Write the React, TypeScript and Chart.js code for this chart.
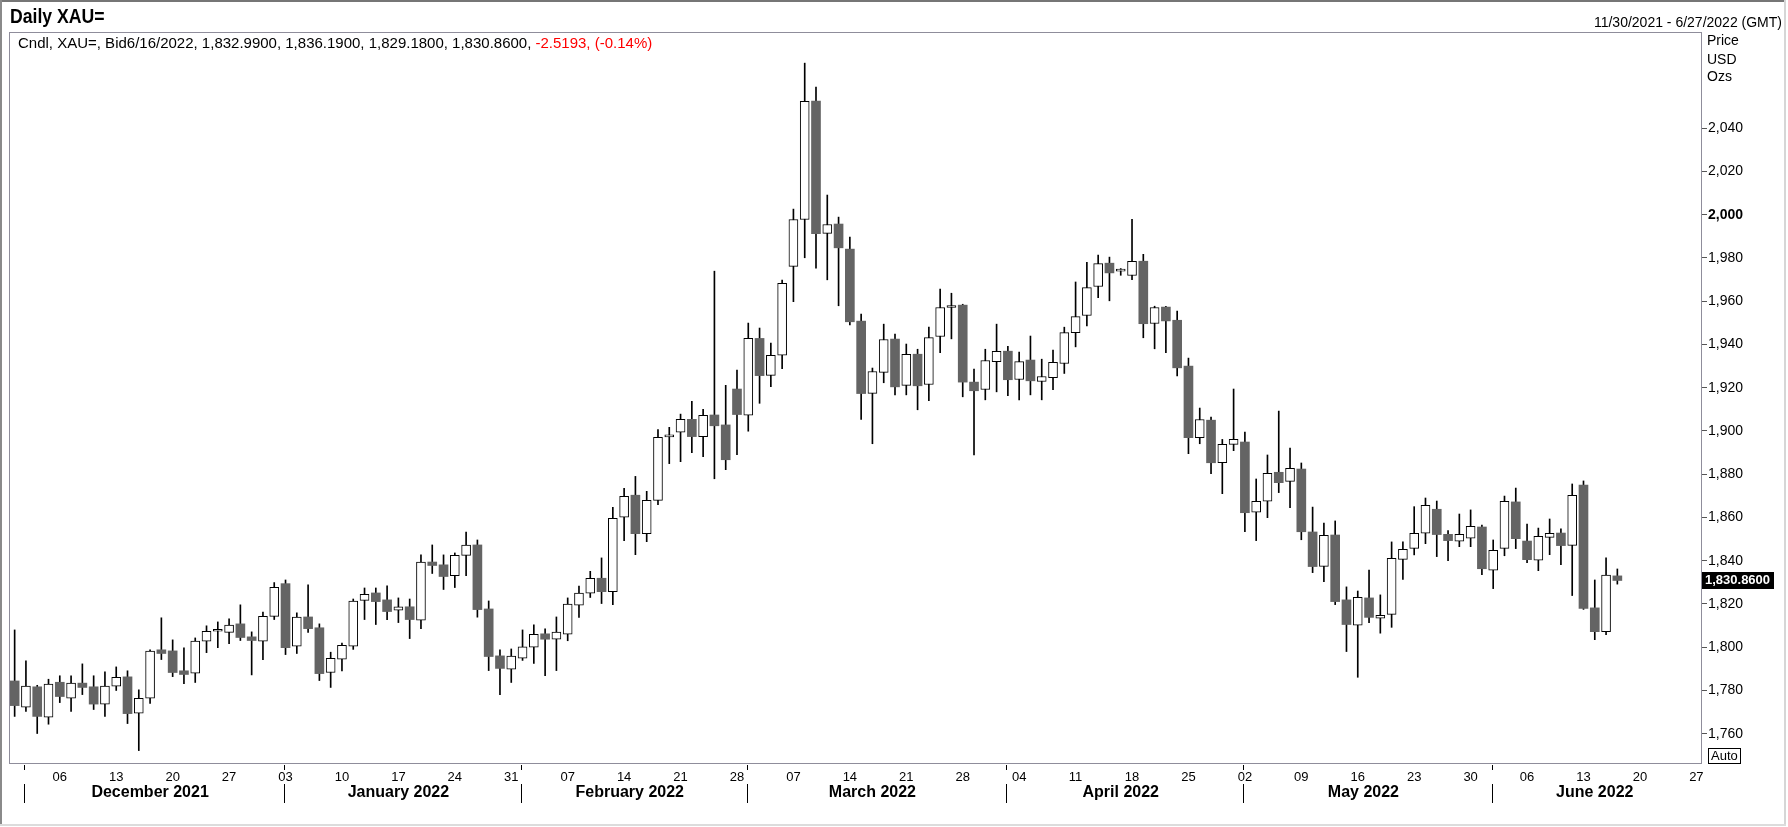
import React, { useEffect, useRef } from 'react';
import { Chart, registerables } from 'chart.js';

Chart.register(...registerables);

// ---------- data ----------
const DATES: string[] = [
  '2021-11-30',
  '2021-12-01','2021-12-02','2021-12-03','2021-12-06','2021-12-07','2021-12-08','2021-12-09','2021-12-10',
  '2021-12-13','2021-12-14','2021-12-15','2021-12-16','2021-12-17','2021-12-20','2021-12-21','2021-12-22',
  '2021-12-23','2021-12-24','2021-12-27','2021-12-28','2021-12-29','2021-12-30','2021-12-31',
  '2022-01-03','2022-01-04','2022-01-05','2022-01-06','2022-01-07','2022-01-10','2022-01-11','2022-01-12',
  '2022-01-13','2022-01-14','2022-01-17','2022-01-18','2022-01-19','2022-01-20','2022-01-21','2022-01-24',
  '2022-01-25','2022-01-26','2022-01-27','2022-01-28','2022-01-31',
  '2022-02-01','2022-02-02','2022-02-03','2022-02-04','2022-02-07','2022-02-08','2022-02-09','2022-02-10',
  '2022-02-11','2022-02-14','2022-02-15','2022-02-16','2022-02-17','2022-02-18','2022-02-21','2022-02-22',
  '2022-02-23','2022-02-24','2022-02-25','2022-02-28',
  '2022-03-01','2022-03-02','2022-03-03','2022-03-04','2022-03-07','2022-03-08','2022-03-09','2022-03-10',
  '2022-03-11','2022-03-14','2022-03-15','2022-03-16','2022-03-17','2022-03-18','2022-03-21','2022-03-22',
  '2022-03-23','2022-03-24','2022-03-25','2022-03-28','2022-03-29','2022-03-30','2022-03-31',
  '2022-04-01','2022-04-04','2022-04-05','2022-04-06','2022-04-07','2022-04-08','2022-04-11','2022-04-12',
  '2022-04-13','2022-04-14','2022-04-15','2022-04-18','2022-04-19','2022-04-20','2022-04-21','2022-04-22',
  '2022-04-25','2022-04-26','2022-04-27','2022-04-28','2022-04-29',
  '2022-05-02','2022-05-03','2022-05-04','2022-05-05','2022-05-06','2022-05-09','2022-05-10','2022-05-11',
  '2022-05-12','2022-05-13','2022-05-16','2022-05-17','2022-05-18','2022-05-19','2022-05-20','2022-05-23',
  '2022-05-24','2022-05-25','2022-05-26','2022-05-27','2022-05-30','2022-05-31',
  '2022-06-01','2022-06-02','2022-06-03','2022-06-06','2022-06-07','2022-06-08','2022-06-09','2022-06-10',
  '2022-06-13','2022-06-14','2022-06-15','2022-06-16','2022-06-17','2022-06-20','2022-06-21','2022-06-22',
  '2022-06-23','2022-06-24','2022-06-27',
];

const OPEN: number[] = [
  1784.4,1772.3,1781.7,1767.7,1783.8,1776.4,1783.4,1781.7,1773.7,1782.0,
  1786.3,1769.5,1776.4,1798.8,1798.3,1789.1,1788.0,1802.8,1807.4,1806.9,
  1810.8,1804.8,1802.8,1814.3,1829.4,1800.5,1814.0,1809.0,1788.3,1794.5,
  1800.5,1821.7,1825.1,1821.9,1817.1,1818.7,1812.5,1839.4,1838.1,1833.1,
  1842.5,1847.3,1817.7,1796.0,1789.8,1794.9,1800.0,1806.2,1803.7,1806.0,
  1819.4,1825.0,1831.9,1825.7,1860.1,1870.3,1852.5,1867.9,1897.3,1899.4,
  1905.4,1897.4,1907.4,1902.8,1919.4,1907.3,1942.8,1925.7,1935.0,1976.1,
  1997.8,2052.5,1991.4,1995.7,1984.1,1950.8,1917.4,1927.1,1942.5,1921.1,
  1935.5,1921.5,1943.7,1957.1,1958.2,1922.6,1919.2,1932.1,1936.9,1923.8,
  1932.8,1922.9,1924.7,1931.2,1945.5,1953.4,1966.8,1977.6,1973.9,1971.9,
  1978.5,1949.7,1957.3,1951.2,1930.0,1896.9,1905.0,1885.3,1893.8,1894.9,
  1862.4,1867.5,1880.9,1876.7,1882.4,1853.3,1837.4,1851.9,1821.9,1810.2,
  1822.8,1813.4,1815.2,1840.6,1845.7,1852.7,1863.8,1852.2,1849.0,1850.4,
  1855.6,1835.6,1845.7,1867.2,1849.1,1840.2,1850.8,1852.8,1847.1,1875.0,
  1818.2,1807.2,1832.99,
];

const HIGH: number[] = [
  1808.0,1793.7,1782.4,1785.2,1786.8,1786.8,1792.3,1786.8,1788.6,1790.9,
  1789.1,1780.3,1798.8,1813.6,1803.4,1799.7,1804.3,1809.9,1811.7,1813.1,
  1819.6,1807.1,1816.3,1829.9,1831.1,1815.9,1828.8,1810.8,1797.7,1801.9,
  1822.3,1827.4,1827.4,1828.4,1822.8,1822.3,1842.7,1847.3,1842.7,1843.6,
  1853.3,1849.6,1821.4,1798.8,1799.2,1808.0,1810.3,1808.5,1814.0,1822.8,
  1828.3,1835.1,1841.3,1864.7,1873.5,1879.0,1872.1,1900.7,1901.7,1907.8,
  1913.7,1910.0,1973.9,1921.1,1928.2,1949.9,1947.6,1940.7,1969.8,2002.6,
  2070.1,2059.0,2009.1,1998.9,1989.7,1954.1,1929.1,1949.4,1944.8,1940.2,
  1937.8,1948.0,1965.6,1963.7,1958.6,1928.6,1937.8,1949.4,1939.2,1936.5,
  1943.9,1933.2,1937.4,1948.0,1968.9,1978.0,1981.3,1980.4,1975.1,1997.9,
  1981.7,1957.7,1957.6,1955.4,1933.7,1910.6,1906.4,1896.1,1919.4,1899.5,
  1877.8,1888.9,1909.2,1892.1,1885.2,1864.8,1857.4,1858.4,1827.9,1826.0,
  1835.7,1824.2,1848.7,1848.7,1865.0,1869.0,1867.6,1853.9,1861.6,1863.5,
  1856.5,1849.6,1869.9,1873.6,1857.0,1855.1,1859.3,1854.7,1875.5,1876.9,
  1831.1,1841.3,1836.19,
];

const LOW: number[] = [
  1768.0,1770.3,1760.1,1764.4,1774.4,1770.3,1778.1,1771.2,1768.0,1780.0,
  1764.7,1752.2,1774.0,1794.3,1786.4,1783.2,1783.7,1797.5,1799.8,1801.7,
  1803.1,1787.2,1794.3,1812.8,1796.6,1797.1,1806.8,1784.6,1781.4,1789.1,
  1799.0,1812.8,1810.5,1812.8,1811.4,1804.0,1808.6,1834.1,1826.7,1827.6,
  1833.1,1813.9,1789.2,1778.1,1783.7,1793.9,1792.5,1786.9,1789.2,1803.0,
  1813.8,1823.0,1820.2,1819.7,1849.3,1842.8,1848.8,1865.9,1884.9,1885.8,
  1890.0,1888.1,1877.9,1882.1,1889.1,1899.9,1912.8,1920.5,1928.8,1959.8,
  1980.1,1975.3,1969.9,1957.9,1949.0,1905.3,1894.1,1922.3,1916.7,1916.7,
  1909.8,1914.0,1936.2,1942.6,1915.8,1888.9,1914.4,1918.1,1916.3,1914.4,
  1916.7,1914.4,1919.1,1926.6,1938.9,1948.6,1961.6,1960.2,1972.0,1970.0,
  1943.1,1938.0,1936.2,1925.5,1889.5,1894.1,1880.2,1871.0,1890.9,1853.4,
  1849.3,1859.9,1871.5,1864.5,1849.7,1834.5,1830.3,1819.7,1798.0,1786.1,
  1811.4,1806.5,1809.2,1831.4,1842.7,1847.9,1841.9,1840.0,1846.5,1846.5,
  1833.6,1827.1,1842.3,1845.6,1839.1,1835.4,1842.8,1838.2,1823.9,1817.5,
  1803.5,1805.8,1829.18,
];

const CLOSE: number[] = [
  1773.0,1782.0,1768.0,1782.9,1777.2,1783.4,1781.4,1773.7,1782.0,1786.1,
  1769.3,1776.4,1798.2,1797.1,1788.3,1787.4,1802.8,1807.4,1807.6,1810.2,
  1804.5,1803.1,1814.3,1827.7,1799.8,1813.9,1808.6,1787.8,1794.9,1800.9,
  1821.3,1824.5,1821.1,1816.5,1818.7,1812.8,1839.4,1837.8,1832.7,1842.5,
  1847.2,1817.4,1795.7,1790.2,1795.9,1800.2,1806.0,1803.7,1807.0,1819.9,
  1825.0,1831.9,1825.7,1859.6,1869.8,1852.5,1867.9,1897.1,1897.5,1905.4,
  1897.4,1907.2,1902.4,1886.7,1907.6,1942.8,1925.6,1935.0,1968.3,1997.8,
  2052.4,1991.2,1995.5,1984.7,1950.5,1917.3,1927.5,1942.3,1920.4,1935.4,
  1920.9,1943.2,1957.1,1957.3,1922.6,1918.6,1932.6,1936.8,1923.7,1932.1,
  1923.2,1925.2,1931.7,1945.5,1952.9,1966.3,1977.4,1973.1,1974.1,1978.4,
  1949.6,1957.1,1950.9,1929.2,1896.9,1905.3,1885.3,1893.8,1896.1,1862.2,
  1867.5,1880.4,1876.1,1882.7,1853.4,1837.3,1851.7,1821.1,1810.5,1823.1,
  1813.8,1814.8,1841.1,1845.3,1852.7,1865.6,1852.1,1849.3,1852.2,1855.9,
  1836.3,1844.8,1867.5,1850.2,1840.5,1851.3,1852.7,1847.0,1870.2,1817.9,
  1807.2,1833.3793,1830.86,
];

const Y_TICKS: number[] = [1760, 1780, 1800, 1820, 1840, 1860, 1880, 1900, 1920, 1940, 1960, 1980, 2000, 2020, 2040];
const Y_MIN = 1746;
const Y_MAX = 2084.5;
const MONTH_NAMES: string[] = ['January', 'February', 'March', 'April', 'May', 'June', 'July', 'August', 'September', 'October', 'November', 'December'];

const FONT = '"Liberation Sans", Arial, Helvetica, sans-serif';

const fmt4 = (v: number) => v.toLocaleString('en-US', { minimumFractionDigits: 4, maximumFractionDigits: 4 });
const parseDate = (s: string) => new Date(s + 'T00:00:00Z');
const usDate = (s: string) => {
  const d = parseDate(s);
  return `${d.getUTCMonth() + 1}/${d.getUTCDate()}/${d.getUTCFullYear()}`;
};

const W = 1788;
const H = 827;

const decorPlugin = {
  id: 'decor',
  afterDraw(chart: any) {
    const { ctx, chartArea: a, scales } = chart;
    const xs = scales.x;
    const ys = scales.y;
    ctx.save();

    // plot frame
    ctx.strokeStyle = '#8f8d9b';
    ctx.lineWidth = 1;
    ctx.strokeRect(Math.round(a.left) + 0.5, Math.round(a.top) + 0.5, Math.round(a.right - a.left) - 1, Math.round(a.bottom - a.top) - 1);

    // x axis: Monday day numbers
    ctx.fillStyle = '#000';
    ctx.textAlign = 'center';
    ctx.textBaseline = 'middle';
    ctx.font = `13px ${FONT}`;
    DATES.forEach((s, i) => {
      const d = parseDate(s);
      if (d.getUTCDay() === 1) {
        ctx.fillText(String(d.getUTCDate()).padStart(2, '0'), xs.getPixelForValue(i), 777);
      }
    });

    // month groups
    const groups: { start: number; end: number; m: number; y: number }[] = [];
    DATES.forEach((s, i) => {
      const d = parseDate(s);
      const m = d.getUTCMonth();
      const last = groups[groups.length - 1];
      if (!last || last.m !== m) groups.push({ start: i, end: i, m, y: d.getUTCFullYear() });
      else last.end = i;
    });
    ctx.strokeStyle = '#000';
    ctx.lineWidth = 1;
    ctx.font = `bold 16px ${FONT}`;
    groups.forEach((g) => {
      if (g.start === 0) return;
      const bx = Math.round(xs.getPixelForValue(g.start) - 1.5) + 0.5;
      ctx.beginPath();
      ctx.moveTo(bx, a.bottom + 1);
      ctx.lineTo(bx, a.bottom + 6);
      ctx.moveTo(bx, a.bottom + 20);
      ctx.lineTo(bx, a.bottom + 39);
      ctx.stroke();
      const cx = (xs.getPixelForValue(g.start) + xs.getPixelForValue(g.end)) / 2;
      ctx.fillText(`${MONTH_NAMES[g.m]} ${g.y}`, cx, 793);
    });

    // last price label
    const lc = CLOSE[CLOSE.length - 1];
    const ly = ys.getPixelForValue(lc);
    ctx.fillStyle = '#000';
    ctx.fillRect(a.right, Math.round(ly) - 8, 72, 17);
    ctx.fillStyle = '#fff';
    ctx.font = `bold 13px ${FONT}`;
    ctx.textAlign = 'left';
    ctx.fillText(fmt4(lc), a.right + 3, Math.round(ly) + 0.5);

    // outer panel frame
    ctx.fillStyle = '#767676';
    ctx.fillRect(0, 0, W - 3, 2);
    ctx.fillStyle = '#8a8a8a';
    ctx.fillRect(0, 0, 2, H - 2);
    ctx.fillStyle = '#d6d6d6';
    ctx.fillRect(W - 4, 0, 2, H - 2);
    ctx.fillStyle = '#dcdcdc';
    ctx.fillRect(0, H - 3, W - 2, 2);

    ctx.restore();
  },
};

export default function App() {
  const ref = useRef<HTMLCanvasElement>(null);

  useEffect(() => {
    const canvas = ref.current;
    if (!canvas) return;
    const isUp = (i: number) => CLOSE[i] >= OPEN[i];
    const bodies = OPEN.map((o, i) => [Math.min(o, CLOSE[i]), Math.max(o, CLOSE[i])]);
    const wicks = LOW.map((l, i) => [l, HIGH[i]]);

    const chart = new Chart(canvas, {
      type: 'bar',
      data: {
        labels: DATES,
        datasets: [
          {
            label: 'body',
            data: bodies as any,
            backgroundColor: (c: any) => (isUp(c.dataIndex) ? '#ffffff' : '#646464'),
            borderColor: '#000000',
            borderWidth: (c: any) => (isUp(c.dataIndex) ? 1 : 0),
            borderSkipped: false,
            barThickness: 9,
            minBarLength: 2,
            grouped: false,
            order: 0,
          } as any,
          {
            label: 'wick',
            data: wicks as any,
            backgroundColor: '#000000',
            borderWidth: 0,
            barThickness: 1,
            grouped: false,
            order: 1,
          } as any,
        ],
      },
      options: {
        animation: false,
        responsive: true,
        maintainAspectRatio: false,
        layout: { padding: { left: 9, top: 32, right: 0, bottom: 0 } },
        plugins: { legend: { display: false }, tooltip: { enabled: false } },
        scales: {
          x: {
            type: 'category',
            offset: true,
            grid: { display: false },
            border: { display: false },
            ticks: { display: false },
            afterFit: (s: any) => {
              s.height = 63;
            },
          },
          y: {
            type: 'linear',
            position: 'right',
            min: Y_MIN,
            max: Y_MAX,
            afterBuildTicks: (s: any) => {
              s.ticks = Y_TICKS.map((v) => ({ value: v }));
            },
            grid: { drawOnChartArea: false, drawTicks: true, tickLength: 5, color: '#555', tickWidth: 1 },
            border: { display: false },
            ticks: {
              padding: 1,
              color: '#000',
              font: (c: any) => ({ family: FONT, size: 14, weight: c.tick && c.tick.value === 2000 ? 'bold' : 'normal' }),
              callback: (v: any) => Number(v).toLocaleString('en-US'),
            },
            afterFit: (s: any) => {
              s.width = 86;
            },
          },
        },
      } as any,
      plugins: [decorPlugin],
    });
    return () => chart.destroy();
  }, []);

  const n = CLOSE.length;
  const change = CLOSE[n - 1] - CLOSE[n - 2];
  const pct = (change / CLOSE[n - 2]) * 100;
  const info = `Cndl, XAU=, Bid${usDate(DATES[n - 1])}, ${fmt4(OPEN[n - 1])}, ${fmt4(HIGH[n - 1])}, ${fmt4(LOW[n - 1])}, ${fmt4(CLOSE[n - 1])}, `;
  const chg = `${change.toFixed(4)}, (${pct.toFixed(2)}%)`;
  const range = `${usDate(DATES[0])} - ${usDate(DATES[DATES.length - 1])} (GMT)`;

  const txt = (size: number, extra: React.CSSProperties = {}): React.CSSProperties => ({
    position: 'absolute',
    fontFamily: FONT,
    fontSize: size,
    lineHeight: `${size}px`,
    whiteSpace: 'nowrap',
    color: '#000',
    ...extra,
  });

  return (
    <div style={{ position: 'absolute', left: 0, top: 0, width: W, height: H, background: '#fff', overflow: 'hidden' }}>
      <canvas ref={ref} width={W} height={H} style={{ position: 'absolute', left: 0, top: 0, width: W, height: H }} />
      <div style={txt(21, { left: 10, top: 5, fontWeight: 'bold', transform: 'scaleX(0.84)', transformOrigin: '0 0' })}>Daily XAU=</div>
      <div style={txt(15, { left: 18, top: 34.5 })}>
        {info}
        <span style={{ color: '#ff0000' }}>{chg}</span>
      </div>
      <div style={txt(14, { right: 6, top: 15 })}>{range}</div>
      <div style={txt(14, { left: 1707, top: 33 })}>Price</div>
      <div style={txt(14, { left: 1707, top: 51.5 })}>USD</div>
      <div style={txt(14, { left: 1707, top: 69 })}>Ozs</div>
      <div
        style={txt(13, {
          left: 1708,
          top: 748,
          height: 16,
          lineHeight: '14px',
          border: '1px solid #000',
          padding: '0 2px',
          boxSizing: 'border-box',
        })}
      >
        Auto
      </div>
    </div>
  );
}
